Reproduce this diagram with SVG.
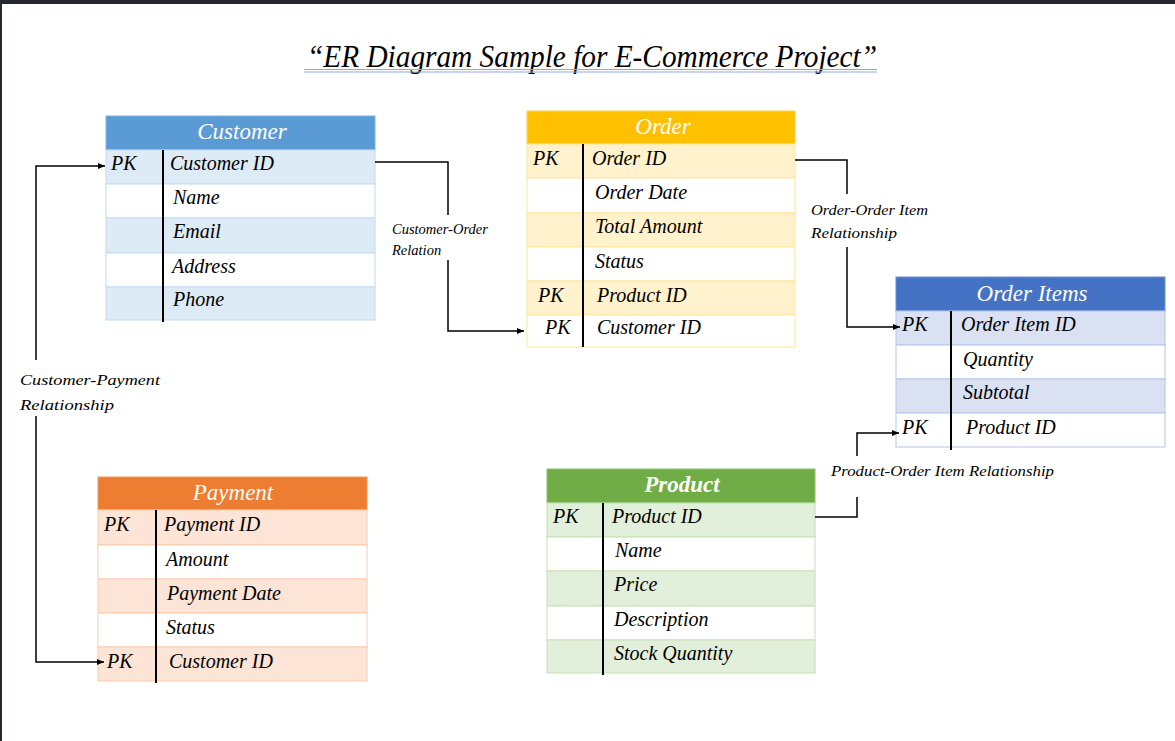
<svg xmlns="http://www.w3.org/2000/svg" width="1175" height="741" viewBox="0 0 1175 741">
<defs>
<style>
text{font-family:"Liberation Serif","DejaVu Serif",serif;font-style:italic;fill:#000}
.hd{fill:#fff;font-size:23px;text-anchor:middle}
.f{font-size:20px}
.lb{font-size:14.5px}
.dv{stroke:#000;stroke-width:2}
.cn{fill:none;stroke:#000;stroke-width:1.5}
.bl .t{fill:#ddebf7}.bl .r{stroke:#c5d9f1}
.yl .t{fill:#fff2cc}.yl .r{stroke:#ffe699}
.db .t{fill:#d9e1f2}.db .r{stroke:#b4c6e7}
.or .t{fill:#fce4d6}.or .r{stroke:#f8cbad}
.gr .t{fill:#e2efda}.gr .r{stroke:#c6e0b4}
.w{fill:#fff}
rect.r{stroke-width:1}
</style>
<marker id="ah" markerWidth="8" markerHeight="8" refX="7" refY="4" orient="auto" markerUnits="userSpaceOnUse">
<path d="M0,1 L7,4 L0,7 Z" fill="#000"/>
</marker>
</defs>
<rect x="0" y="0" width="1175" height="741" fill="#fff"/>
<rect x="0" y="0" width="1175" height="4" fill="#27282c"/>
<rect x="0" y="0" width="2" height="741" fill="#27282c"/>

<g id="title">
<text x="307" y="67" font-size="31" textLength="570" lengthAdjust="spacingAndGlyphs" fill="#0d0d1a">“ER Diagram Sample for E-Commerce Project”</text>
<line x1="304" y1="69.5" x2="877" y2="69.5" stroke="#8eaadb" stroke-width="1.2"/>
<line x1="304" y1="72" x2="877" y2="72" stroke="#8eaadb" stroke-width="1.2"/>
</g>

<g id="customer" class="bl">
<rect x="106" y="116" width="269" height="34" fill="#5b9bd5" stroke="#7fb2e0"/>
<rect class="r t" x="106" y="150" width="269" height="34"/>
<rect class="r w" x="106" y="184" width="269" height="34"/>
<rect class="r t" x="106" y="218" width="269" height="35"/>
<rect class="r w" x="106" y="253" width="269" height="34"/>
<rect class="r t" x="106" y="287" width="269" height="33"/>
<line class="dv" x1="163" y1="150" x2="163" y2="322"/>
<text class="hd" x="242" y="139">Customer</text>
<text class="f" x="111" y="170">PK</text>
<text class="f" x="170" y="170">Customer ID</text>
<text class="f" x="173" y="204">Name</text>
<text class="f" x="173" y="238">Email</text>
<text class="f" x="172" y="273">Address</text>
<text class="f" x="173" y="306">Phone</text>
</g>

<g id="order" class="yl">
<rect x="527" y="111" width="268" height="33" fill="#ffc000" stroke="#ffd24d"/>
<rect class="r t" x="527" y="144" width="268" height="34"/>
<rect class="r w" x="527" y="178" width="268" height="35"/>
<rect class="r t" x="527" y="213" width="268" height="34"/>
<rect class="r w" x="527" y="247" width="268" height="34"/>
<rect class="r t" x="527" y="281" width="268" height="34"/>
<rect class="r w" x="527" y="315" width="268" height="32"/>
<line class="dv" x1="583" y1="144" x2="583" y2="347"/>
<text class="hd" x="663" y="134">Order</text>
<text class="f" x="533" y="165">PK</text>
<text class="f" x="592" y="165">Order ID</text>
<text class="f" x="595" y="199">Order  Date</text>
<text class="f" x="595" y="233">Total Amount</text>
<text class="f" x="595" y="268">Status</text>
<text class="f" x="538" y="302">PK</text>
<text class="f" x="597" y="302">Product ID</text>
<text class="f" x="545" y="334">PK</text>
<text class="f" x="597" y="334">Customer ID</text>
</g>

<g id="order-items" class="db">
<rect x="896" y="277" width="269" height="34" fill="#4472c4" stroke="#6a8fd2"/>
<rect class="r t" x="896" y="311" width="269" height="34"/>
<rect class="r w" x="896" y="345" width="269" height="34"/>
<rect class="r t" x="896" y="379" width="269" height="34"/>
<rect class="r w" x="896" y="413" width="269" height="34"/>
<line class="dv" x1="951" y1="311" x2="951" y2="450"/>
<text class="hd" x="1032" y="301">Order Items</text>
<text class="f" x="902" y="331">PK</text>
<text class="f" x="961" y="331">Order Item ID</text>
<text class="f" x="963" y="366">Quantity</text>
<text class="f" x="963" y="399">Subtotal</text>
<text class="f" x="902" y="434">PK</text>
<text class="f" x="966" y="434">Product ID</text>
</g>

<g id="payment" class="or">
<rect x="98" y="477" width="269" height="33" fill="#ed7d31" stroke="#f29a5e"/>
<rect class="r t" x="98" y="510" width="269" height="35"/>
<rect class="r w" x="98" y="545" width="269" height="34"/>
<rect class="r t" x="98" y="579" width="269" height="34"/>
<rect class="r w" x="98" y="613" width="269" height="34"/>
<rect class="r t" x="98" y="647" width="269" height="34"/>
<line class="dv" x1="156" y1="510" x2="156" y2="683"/>
<text class="hd" x="233" y="500">Payment</text>
<text class="f" x="104" y="531">PK</text>
<text class="f" x="164" y="531">Payment ID</text>
<text class="f" x="166" y="566">Amount</text>
<text class="f" x="167" y="600">Payment Date</text>
<text class="f" x="166" y="634">Status</text>
<text class="f" x="107" y="668">PK</text>
<text class="f" x="169" y="668">Customer ID</text>
</g>

<g id="product" class="gr">
<rect x="547" y="469" width="268" height="34" fill="#70ad47" stroke="#8fc06c"/>
<rect class="r t" x="547" y="503" width="268" height="34"/>
<rect class="r w" x="547" y="537" width="268" height="34"/>
<rect class="r t" x="547" y="571" width="268" height="35"/>
<rect class="r w" x="547" y="606" width="268" height="34"/>
<rect class="r t" x="547" y="640" width="268" height="33"/>
<line class="dv" x1="603" y1="503" x2="603" y2="675"/>
<text class="hd" x="682" y="492" font-weight="bold">Product</text>
<text class="f" x="553" y="523">PK</text>
<text class="f" x="612" y="523">Product ID</text>
<text class="f" x="615" y="557">Name</text>
<text class="f" x="614" y="591">Price</text>
<text class="f" x="614" y="626">Description</text>
<text class="f" x="614" y="660">Stock Quantity</text>
</g>

<g id="connectors">
<path class="cn" d="M375,162 H448 V215"/>
<path class="cn" d="M448,260 V331 H524" marker-end="url(#ah)"/>
<path class="cn" d="M795,160 H847 V194"/>
<path class="cn" d="M847,247 V327 H900" marker-end="url(#ah)"/>
<path class="cn" d="M815,517 H857 V497"/>
<path class="cn" d="M857,456 V433 H899" marker-end="url(#ah)"/>
<path class="cn" d="M36,360 V166 H105" marker-end="url(#ah)"/>
<path class="cn" d="M36,416 V662 H104" marker-end="url(#ah)"/>
<text class="lb" x="392" y="234" font-size="14">Customer-Order</text>
<text class="lb" x="392" y="255" font-size="14">Relation</text>
<text class="lb" x="811" y="215" font-size="15" textLength="117" lengthAdjust="spacingAndGlyphs">Order-Order Item</text>
<text class="lb" x="811" y="238" font-size="15" textLength="86" lengthAdjust="spacingAndGlyphs">Relationship</text>
<text class="lb" x="831" y="476" font-size="16.5" textLength="223" lengthAdjust="spacingAndGlyphs">Product-Order Item Relationship</text>
<text class="lb" x="20" y="385" font-size="17" textLength="140" lengthAdjust="spacingAndGlyphs">Customer-Payment</text>
<text class="lb" x="20" y="410" font-size="17" textLength="94" lengthAdjust="spacingAndGlyphs">Relationship</text>
</g>
</svg>
